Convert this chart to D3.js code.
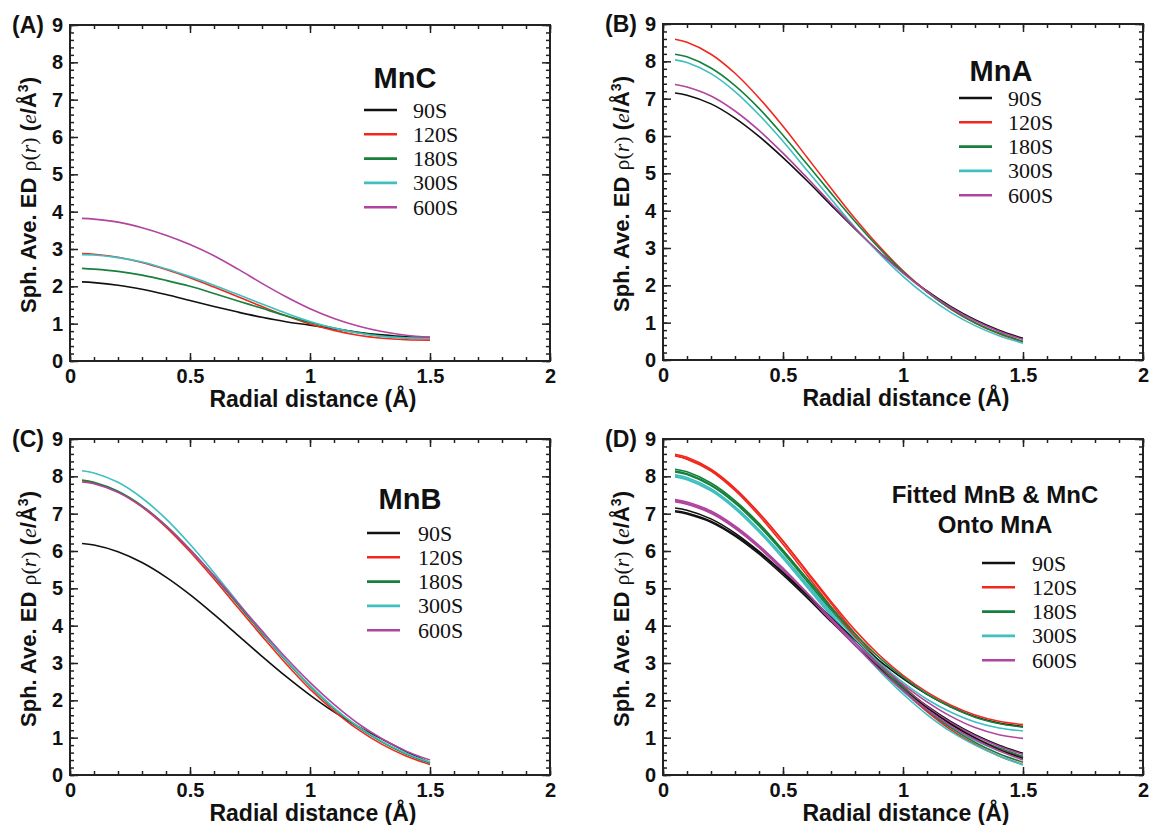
<!DOCTYPE html>
<html>
<head>
<meta charset="utf-8">
<script src="https://cdn.jsdelivr.net/npm/d3@7"></script>
<style>
  body { margin: 0; background: #fff; }
  svg { display: block; }
</style>
</head>
<body>
<div id="chart"></div>
<script>
// radial distance grid (Å)
var radius = [0.05, 0.1, 0.2, 0.3, 0.4, 0.5, 0.6, 0.7, 0.8, 0.9, 1.0, 1.1, 1.2, 1.3, 1.4, 1.5];

var seriesNames = ["90S", "120S", "180S", "300S", "600S"];
var seriesColors = ["#111111", "#f0281e", "#17803a", "#3fbfbf", "#b0449e"];

var xTicks = [0, 0.5, 1, 1.5, 2];
var yTicks = [0, 1, 2, 3, 4, 5, 6, 7, 8, 9];

// (A) MnC
var mncValues = [
  [2.12, 2.10, 2.03, 1.92, 1.78, 1.62, 1.46, 1.31, 1.17, 1.05, 0.96, 0.86, 0.77, 0.70, 0.65, 0.63],
  [2.88, 2.86, 2.78, 2.64, 2.45, 2.23, 1.98, 1.72, 1.46, 1.21, 0.99, 0.82, 0.69, 0.61, 0.57, 0.56],
  [2.48, 2.46, 2.40, 2.30, 2.16, 2.00, 1.81, 1.61, 1.41, 1.21, 1.03, 0.88, 0.76, 0.67, 0.62, 0.61],
  [2.85, 2.84, 2.77, 2.65, 2.47, 2.26, 2.03, 1.78, 1.53, 1.28, 1.06, 0.88, 0.75, 0.66, 0.62, 0.61],
  [3.82, 3.80, 3.72, 3.57, 3.37, 3.12, 2.82, 2.46, 2.08, 1.72, 1.40, 1.14, 0.94, 0.79, 0.69, 0.64]
];

// (B) MnA
var mnaValues = [
  [7.15, 7.09, 6.86, 6.48, 5.99, 5.42, 4.80, 4.15, 3.51, 2.90, 2.35, 1.85, 1.43, 1.08, 0.80, 0.58],
  [8.59, 8.51, 8.19, 7.68, 7.02, 6.26, 5.43, 4.60, 3.79, 3.05, 2.39, 1.83, 1.36, 0.99, 0.70, 0.48],
  [8.19, 8.12, 7.82, 7.35, 6.74, 6.02, 5.25, 4.47, 3.71, 3.00, 2.37, 1.82, 1.37, 1.00, 0.72, 0.50],
  [8.04, 7.97, 7.67, 7.19, 6.57, 5.86, 5.08, 4.31, 3.55, 2.86, 2.24, 1.71, 1.27, 0.92, 0.65, 0.45],
  [7.38, 7.31, 7.07, 6.67, 6.15, 5.54, 4.88, 4.20, 3.53, 2.90, 2.33, 1.83, 1.40, 1.05, 0.77, 0.55]
];

// (C) MnB
var mnbValues = [
  [6.20, 6.16, 5.98, 5.69, 5.30, 4.83, 4.30, 3.74, 3.18, 2.64, 2.14, 1.69, 1.30, 0.96, 0.63, 0.33],
  [7.88, 7.82, 7.58, 7.18, 6.64, 5.98, 5.25, 4.48, 3.72, 2.98, 2.30, 1.72, 1.22, 0.82, 0.51, 0.28],
  [7.90, 7.84, 7.60, 7.21, 6.68, 6.04, 5.32, 4.56, 3.80, 3.06, 2.38, 1.78, 1.28, 0.88, 0.56, 0.32],
  [8.15, 8.09, 7.84, 7.42, 6.86, 6.18, 5.42, 4.62, 3.83, 3.08, 2.40, 1.80, 1.30, 0.90, 0.58, 0.34],
  [7.85, 7.80, 7.57, 7.19, 6.67, 6.04, 5.34, 4.60, 3.86, 3.14, 2.48, 1.89, 1.38, 0.97, 0.64, 0.40]
];

// (D) MnB and MnC fitted onto MnA (drawn together with mnaValues)
var fitMnbValues = [
  [7.05, 6.99, 6.77, 6.40, 5.92, 5.36, 4.75, 4.11, 3.48, 2.87, 2.31, 1.80, 1.36, 0.99, 0.68, 0.45],
  [8.55, 8.46, 8.14, 7.62, 6.95, 6.18, 5.35, 4.51, 3.70, 2.95, 2.28, 1.70, 1.21, 0.82, 0.51, 0.28],
  [8.12, 8.05, 7.75, 7.28, 6.67, 5.96, 5.19, 4.41, 3.65, 2.94, 2.30, 1.74, 1.26, 0.87, 0.57, 0.34],
  [7.98, 7.91, 7.61, 7.13, 6.51, 5.80, 5.03, 4.26, 3.50, 2.80, 2.17, 1.62, 1.16, 0.80, 0.51, 0.27],
  [7.32, 7.25, 7.01, 6.61, 6.09, 5.48, 4.82, 4.14, 3.47, 2.84, 2.26, 1.75, 1.31, 0.95, 0.65, 0.40]
];
var fitMncValues = [
  [7.08, 7.02, 6.80, 6.43, 5.96, 5.42, 4.83, 4.22, 3.62, 3.07, 2.58, 2.16, 1.82, 1.56, 1.39, 1.30],
  [8.55, 8.47, 8.16, 7.66, 7.01, 6.27, 5.46, 4.65, 3.88, 3.22, 2.67, 2.22, 1.87, 1.61, 1.44, 1.35],
  [8.14, 8.07, 7.77, 7.31, 6.71, 6.01, 5.26, 4.50, 3.78, 3.15, 2.62, 2.17, 1.82, 1.55, 1.38, 1.28],
  [8.00, 7.93, 7.64, 7.17, 6.56, 5.87, 5.12, 4.37, 3.65, 3.02, 2.48, 2.03, 1.68, 1.42, 1.26, 1.18],
  [7.35, 7.28, 7.04, 6.64, 6.12, 5.52, 4.87, 4.20, 3.55, 2.96, 2.43, 1.96, 1.57, 1.27, 1.08, 0.98]
];

var width = 1149,
    height = 825;
var plotWidth = 480,
    plotHeight = 336;

var sansFont = "Arial, 'Liberation Sans', Helvetica, sans-serif";
var serifFont = "'Times New Roman', 'Liberation Serif', Times, serif";

var panels = [
  { label: "(A)", left: 70,  top: 25,  sets: [mncValues], title: ["MnC"], titleSize: 29,
    titleX: 335, titleY: [63], rowY: 85, lineX: 294, textX: 343 },
  { label: "(B)", left: 663, top: 24,  sets: [mnaValues], title: ["MnA"], titleSize: 29,
    titleX: 338, titleY: [57], rowY: 74, lineX: 296, textX: 345 },
  { label: "(C)", left: 70,  top: 439, sets: [mnbValues], title: ["MnB"], titleSize: 29,
    titleX: 340, titleY: [70], rowY: 94, lineX: 297, textX: 348 },
  { label: "(D)", left: 663, top: 439, sets: [mnaValues, fitMnbValues, fitMncValues],
    title: ["Fitted MnB & MnC", "Onto MnA"], titleSize: 24,
    titleX: 332, titleY: [64, 94], rowY: 124, lineX: 319, textX: 369 }
];

var rowStep = 24.3;

var svg = d3.select("#chart")
  .append("svg")
    .attr("width", width)
    .attr("height", height);

var x = d3.scaleLinear().domain([0, 2]).range([0, plotWidth]);
var y = d3.scaleLinear().domain([0, 9]).range([plotHeight, 0]);

var xMinor = d3.range(0, 2.0001, 0.1).map(function(d) { return +d.toFixed(1); });
var yMinor = d3.range(0, 9.0001, 0.2).map(function(d) { return +d.toFixed(1); });

var line = d3.line()
  .x(function(d) { return x(d[0]); })
  .y(function(d) { return y(d[1]); })
  .curve(d3.curveCatmullRom.alpha(0.5));

panels.forEach(drawPanel);

function drawPanel(panel) {
  var g = svg.append("g")
    .attr("transform", "translate(" + panel.left + "," + panel.top + ")");

  // curves
  panel.sets.forEach(function(set) {
    set.forEach(function(values, i) {
      var points = radius.map(function(r, k) { return [r, values[k]]; });
      g.append("path")
        .attr("d", line(points))
        .attr("fill", "none")
        .attr("stroke", seriesColors[i])
        .attr("stroke-width", 1.6);
    });
  });

  // inward ticks on all four sides
  addAxis(d3.axisBottom(x).tickValues(xMinor).tickSize(-4).tickFormat(""), "translate(0," + plotHeight + ")");
  addAxis(d3.axisTop(x).tickValues(xMinor).tickSize(-4).tickFormat(""), null);
  addAxis(d3.axisLeft(y).tickValues(yMinor).tickSize(-4).tickFormat(""), null);
  addAxis(d3.axisRight(y).tickValues(yMinor).tickSize(-4).tickFormat(""), "translate(" + plotWidth + ",0)");

  addAxis(d3.axisBottom(x).tickValues(xTicks).tickSize(-8).tickPadding(8).tickFormat(d3.format("")), "translate(0," + plotHeight + ")");
  addAxis(d3.axisTop(x).tickValues(xTicks).tickSize(-8).tickFormat(""), null);
  addAxis(d3.axisLeft(y).tickValues(yTicks).tickSize(-8).tickPadding(7).tickFormat(d3.format("")), null);
  addAxis(d3.axisRight(y).tickValues(yTicks).tickSize(-8).tickFormat(""), "translate(" + plotWidth + ",0)");

  g.append("rect")
    .attr("width", plotWidth)
    .attr("height", plotHeight)
    .attr("fill", "none")
    .attr("stroke", "#222")
    .attr("stroke-width", 2);

  g.selectAll(".tick text")
    .attr("font-family", sansFont)
    .attr("font-weight", "bold")
    .attr("font-size", "20px")
    .attr("fill", "#111");

  function addAxis(axis, transform) {
    var a = g.append("g").call(axis);
    if (transform) a.attr("transform", transform);
    a.select(".domain").remove();
    a.selectAll(".tick line").attr("stroke", "#222").attr("stroke-width", 1.5);
    return a;
  }

  // panel letter
  g.append("text")
    .attr("x", -58)
    .attr("y", 8)
    .attr("font-family", sansFont)
    .attr("font-weight", "bold")
    .attr("font-size", "23px")
    .attr("fill", "#111")
    .text(panel.label);

  // x axis title
  g.append("text")
    .attr("x", plotWidth / 2 + 3)
    .attr("y", plotHeight + 46)
    .attr("text-anchor", "middle")
    .attr("font-family", sansFont)
    .attr("font-weight", "bold")
    .attr("font-size", "23px")
    .attr("fill", "#111")
    .text("Radial distance (Å)");

  // y axis title, mixed fonts
  var yTitle = g.append("text")
    .attr("transform", "translate(-34," + (plotHeight / 2 + 2) + ") rotate(-90)")
    .attr("text-anchor", "middle")
    .attr("font-family", sansFont)
    .attr("font-weight", "bold")
    .attr("font-size", "22px")
    .attr("fill", "#111");
  yTitle.append("tspan").text("Sph. Ave. ED ");
  yTitle.append("tspan").attr("font-family", serifFont).attr("font-weight", "normal").text("ρ(");
  yTitle.append("tspan").attr("font-family", serifFont).attr("font-weight", "normal").attr("font-style", "italic").text("r");
  yTitle.append("tspan").attr("font-family", serifFont).attr("font-weight", "normal").text(")");
  yTitle.append("tspan").text(" (");
  yTitle.append("tspan").attr("font-family", serifFont).attr("font-weight", "normal").attr("font-style", "italic").text("e");
  yTitle.append("tspan").text("/Å");
  yTitle.append("tspan").attr("dy", -8).attr("font-size", "14px").text("3");
  yTitle.append("tspan").attr("dy", 8).text(")");

  // legend
  panel.title.forEach(function(t, i) {
    g.append("text")
      .attr("x", panel.titleX)
      .attr("y", panel.titleY[i])
      .attr("text-anchor", "middle")
      .attr("font-family", sansFont)
      .attr("font-weight", "bold")
      .attr("font-size", panel.titleSize + "px")
      .attr("fill", "#111")
      .text(t);
  });

  var rows = g.selectAll("g.legend-row")
    .data(seriesNames)
    .enter()
      .append("g")
        .attr("class", "legend-row")
        .attr("transform", function(d, i) { return "translate(0," + (panel.rowY + i * rowStep) + ")"; });

  rows.append("line")
    .attr("x1", panel.lineX)
    .attr("x2", panel.lineX + 33)
    .attr("stroke", function(d, i) { return seriesColors[i]; })
    .attr("stroke-width", 2.6);

  rows.append("text")
    .attr("x", panel.textX)
    .attr("y", 7.5)
    .attr("font-family", serifFont)
    .attr("font-size", "22px")
    .attr("fill", "#111")
    .text(function(d) { return d; });
}
</script>
</body>
</html>
